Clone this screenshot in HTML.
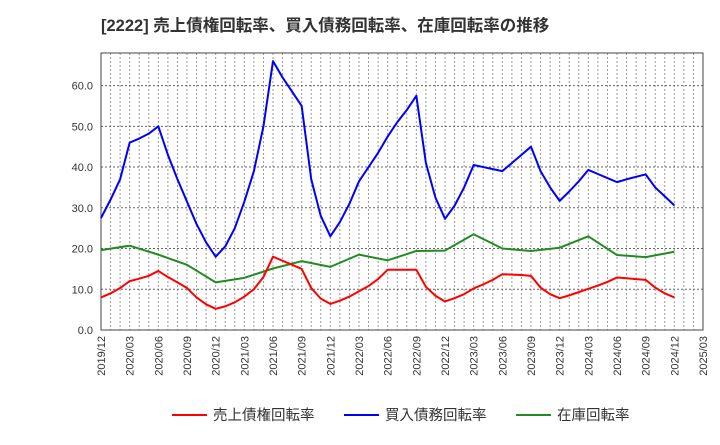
<!DOCTYPE html>
<html><head><meta charset="utf-8"><style>
body{margin:0;background:#fff;font-family:"Liberation Sans","Noto Sans CJK JP",sans-serif;}
svg text{font-family:"Liberation Sans","Noto Sans CJK JP",sans-serif;}
</style></head><body>
<svg id="chart" width="720" height="440">
<text x="101" y="31" font-size="16.5" font-weight="bold" fill="#333">[2222]  売上債権回転率、買入債務回転率、在庫回転率の推移</text>
<g id="grid"></g><g id="axes"></g><g id="series"></g>
<g>
<g><line x1="172" y1="415" x2="207" y2="415" stroke="#f00" stroke-width="2"/><text x="213" y="420" font-size="14.5" fill="#333">売上債権回転率</text></g>
<g><line x1="344" y1="415" x2="379" y2="415" stroke="#00f" stroke-width="2"/><text x="385" y="420" font-size="14.5" fill="#333">買入債務回転率</text></g>
<g><line x1="516" y1="415" x2="551" y2="415" stroke="#228b22" stroke-width="2"/><text x="557" y="420" font-size="14.5" fill="#333">在庫回転率</text></g>
</g>
</svg>
<script>
const xTickLabels=["2019/12","2020/03","2020/06","2020/09","2020/12","2021/03","2021/06","2021/09","2021/12","2022/03","2022/06","2022/09","2022/12","2023/03","2023/06","2023/09","2023/12","2024/03","2024/06","2024/09","2024/12","2025/03"];
const yTicks=[0,10,20,30,40,50,60];
const receivables=[8,9,10.3,12,12.6,13.3,14.5,13,11.7,10.3,8,6.3,5.2,5.8,6.8,8.2,10,13,18,17,16,15,10.3,7.7,6.4,7.2,8.2,9.5,10.8,12.5,14.8,14.8,14.8,14.8,10.6,8.4,7,7.8,8.8,10.2,11.2,12.3,13.7,13.6,13.5,13.3,10.4,8.8,7.8,8.5,9.3,10.1,10.9,11.8,12.9,12.7,12.5,12.3,10.4,9,8];
const payables=[27.5,32,37,46,47,48.2,50,43,37,31.5,26,21.5,18,20.5,25,31.5,39,50,66,62,58.5,55,37,28,23,26.5,31,36.5,40,43.5,47.5,51,54,57.5,41,32.5,27.3,30.5,35,40.5,40,39.5,39,41,43,45,39,35,31.7,34,36.5,39.3,38.3,37.3,36.3,37,37.6,38.2,35,32.8,30.6];
const inventoryMonths=[0,3,6,9,12,15,18,21,24,27,30,33,36,39,42,45,48,51,54,57,60];
const inventory=[19.6,20.7,18.5,16,11.7,12.8,15.1,16.9,15.5,18.5,17.1,19.4,19.5,23.5,20,19.4,20.2,23,18.4,17.9,19.2];
const X0=101,X1=703,Y0=330,Y1=53,YMAX=68,NM=63;
const xs=m=>X0+(X1-X0)*m/NM, ys=v=>Y0-(Y0-Y1)*v/YMAX;
const NS="http://www.w3.org/2000/svg";
function mk(t,a,p){const e=document.createElementNS(NS,t);for(const k in a)e.setAttribute(k,a[k]);p.appendChild(e);return e;}
const grid=document.getElementById('grid'),axes=document.getElementById('axes'),ser=document.getElementById('series');
for(let m=1;m<NM;m++){const l=mk('line',{x1:xs(m),x2:xs(m),y1:Y1,y2:Y0,stroke:'#999','stroke-dasharray':'2,2','stroke-width':1},grid);

}
yTicks.forEach(v=>{if(v>0){const l=mk('line',{x1:X0,x2:X1,y1:ys(v),y2:ys(v),stroke:'#666','stroke-dasharray':'2,2','stroke-width':1},grid);

}
const t=mk('text',{x:93,y:ys(v)+4,'text-anchor':'end','font-size':11,fill:'#333'},axes);t.textContent=v.toFixed(1);

});
xTickLabels.forEach((s,i)=>{const x=xs(i*3);const t=mk('text',{x:0,y:0,'text-anchor':'end','font-size':11,fill:'#333',transform:`translate(${x+4},336) rotate(-90)`},axes);t.textContent=s;

});
const fr=mk('rect',{x:X0,y:Y1,width:X1-X0,height:Y0-Y1,fill:'none',stroke:'#444','stroke-width':1},axes);


function line(vals,months,color,name){const pts=vals.map((v,i)=>xs(months?months[i]:i)+','+ys(v)).join(' ');
const p=mk('polyline',{points:pts,fill:'none',stroke:color,'stroke-width':2,'stroke-linejoin':'round'},ser);

}
line(inventory,inventoryMonths,'#228b22','inventory-line');
line(receivables,null,'#f00','receivables-line');
line(payables,null,'#00f','payables-line');
</script>
</body></html>
